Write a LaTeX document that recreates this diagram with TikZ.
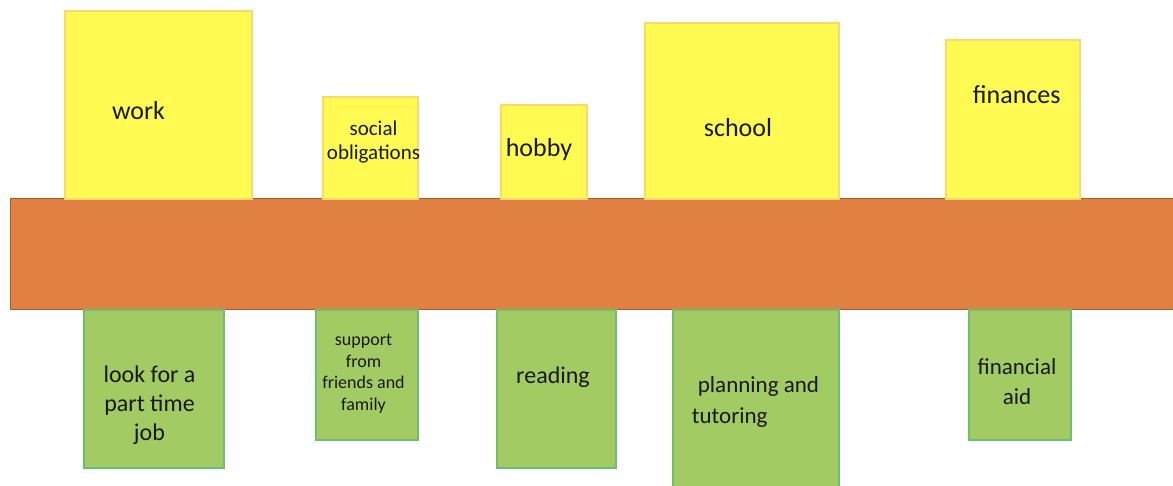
\documentclass[tikz,border=0pt]{standalone}
\usepackage{fontspec}
\setmainfont{Carlito}
\definecolor{yfill}{HTML}{FFFB52}
\definecolor{yline}{HTML}{FCD76A}
\definecolor{gfill}{HTML}{A2CB64}
\definecolor{gline}{HTML}{6CBF6C}
\definecolor{ofill}{HTML}{E08142}
\definecolor{oline}{HTML}{9E5C39}
\tikzset{
  ybox/.style={draw=yline, fill=yfill, line width=1.2pt, inner sep=0pt, rectangle},
  gbox/.style={draw=gline, fill=gfill, line width=1.2pt, inner sep=0pt, rectangle},
  bar/.style={draw=oline, fill=ofill, line width=1pt, inner sep=0pt, rectangle},
  lbl/.style={inner sep=0pt, text=black!90},
}
\begin{document}
\begin{tikzpicture}[x=1pt,y=-1pt]
\useasboundingbox (0,0) rectangle (1173,486);
\clip (0,0) rectangle (1173,486);
\node[bar, minimum width=1170pt, minimum height=111pt] (bar) at (595,254.5) {};
% yellow boxes
\node[ybox, minimum width=187pt, minimum height=188pt] (work) at (158.5,105) {};
\node[ybox, minimum width=95pt, minimum height=102pt] (social) at (370.5,148) {};
\node[ybox, minimum width=86pt, minimum height=94pt] (hobby) at (544,152) {};
\node[ybox, minimum width=194pt, minimum height=176pt] (school) at (742,111) {};
\node[ybox, minimum width=134pt, minimum height=159pt] (finances) at (1013,119.5) {};
% green boxes
\node[gbox, minimum width=140pt, minimum height=158pt] (look) at (154,389) {};
\node[gbox, minimum width=102pt, minimum height=130pt] (support) at (367,375) {};
\node[gbox, minimum width=119pt, minimum height=158pt] (reading) at (556.5,389) {};
\node[gbox, minimum width=166pt, minimum height=185pt] (planning) at (756,402.5) {};
\node[gbox, minimum width=102pt, minimum height=130pt] (aid) at (1020,375) {};
% labels
\node[lbl, font=\fontsize{26}{30}\selectfont] (tw) at (138.5,110.6) {work};
\node[lbl, align=center, font=\fontsize{21}{24}\selectfont] (ts) at (373.5,142.5) {social\\obligations};
\node[lbl, font=\fontsize{26}{30}\selectfont] (th) at (539,150) {hobby};
\node[lbl, font=\fontsize{26}{30}\selectfont] (tsc) at (738,128) {school};
\node[lbl, font=\fontsize{26}{30}\selectfont] (tf) at (1016.7,95) {finances};
\node[lbl, align=center, font=\fontsize{24}{29}\selectfont] (tl) at (149.5,405) {look for a\\part time\\job};
\node[lbl, align=center, font=\fontsize{18}{21.5}\selectfont] (tsu) at (363.5,374) {support\\from\\friends and\\family};
\node[lbl, font=\fontsize{24}{30}\selectfont] (tr) at (553,377.5) {reading};
\node[lbl, align=left, anchor=west, font=\fontsize{23}{30.5}\selectfont] (tp) at (691.7,401.8) {\hspace*{6pt}planning and\\tutoring};
\node[lbl, align=center, font=\fontsize{23}{30.3}\selectfont] (ta) at (1017,381.7) {financial\\aid};
\end{tikzpicture}
\end{document}
